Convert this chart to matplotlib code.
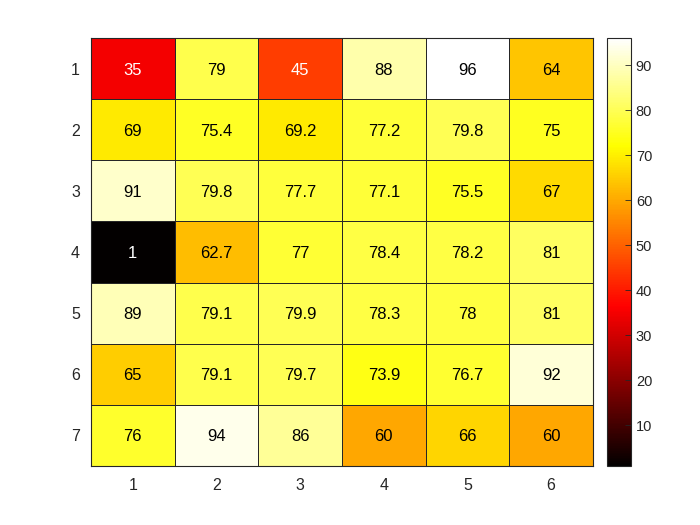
import numpy as np
import matplotlib.pyplot as plt
from matplotlib.colors import ListedColormap

plt.rcParams['font.family'] = ['Liberation Sans', 'DejaVu Sans']

row_labels = ["1", "2", "3", "4", "5", "6", "7"]
col_labels = ["1", "2", "3", "4", "5", "6"]
values = np.array([
    [35, 79, 45, 88, 96, 64],
    [69, 75.4, 69.2, 77.2, 79.8, 75],
    [91, 79.8, 77.7, 77.1, 75.5, 67],
    [1, 62.7, 77, 78.4, 78.2, 81],
    [89, 79.1, 79.9, 78.3, 78, 81],
    [65, 79.1, 79.7, 73.9, 76.7, 92],
    [76, 94, 86, 60, 66, 60],
])
cbar_ticks = [10, 20, 30, 40, 50, 60, 70, 80, 90]


def matlab_hot(m=256):
    # same ramps as MATLAB's hot(m)
    n = int(3 / 8 * m)
    r = np.concatenate([np.arange(1, n + 1) / n, np.ones(m - n)])
    g = np.concatenate([np.zeros(n), np.arange(1, n + 1) / n, np.ones(m - 2 * n)])
    b = np.concatenate([np.zeros(2 * n), np.arange(1, m - 2 * n + 1) / (m - 2 * n)])
    return ListedColormap(np.column_stack([r, g, b]))


fig = plt.figure(figsize=(7, 5.25), dpi=100)
ax = fig.add_axes([91 / 700, 1 - 466 / 525, (593 - 91) / 700, (466 - 38) / 525])
cax = fig.add_axes([607 / 700, 1 - 466 / 525, (631 - 607) / 700, (466 - 38) / 525])

vmin, vmax = values.min(), values.max()
mesh = ax.pcolormesh(values, cmap=matlab_hot(), vmin=vmin, vmax=vmax,
                     edgecolor="#262626", linewidth=0.7)
ax.set_xlim(0, values.shape[1])
ax.set_ylim(values.shape[0], 0)
ax.set_xticks(np.arange(values.shape[1]) + 0.5)
ax.set_xticklabels(col_labels)
ax.set_yticks(np.arange(values.shape[0]) + 0.5)
ax.set_yticklabels(row_labels)
ax.tick_params(length=0, labelsize=11.5, colors="#262626")
ax.tick_params(axis="x", pad=9)
ax.tick_params(axis="y", pad=8)
for s in ax.spines.values():
    s.set_color("#262626")
    s.set_linewidth(0.8)

for i in range(values.shape[0]):
    for j in range(values.shape[1]):
        v = values[i, j]
        color = "white" if v < 50 else "black"
        ax.text(j + 0.5, i + 0.5, f"{v:g}", ha="center", va="center_baseline",
                fontsize=12, color=color)

cb = fig.colorbar(mesh, cax=cax, ticks=cbar_ticks)
cb.ax.tick_params(direction="in", length=4, labelsize=10.5, colors="#262626", width=0.6)
cb.outline.set_edgecolor("#262626")
cb.outline.set_linewidth(0.8)

fig.savefig("out.png", dpi=100)
